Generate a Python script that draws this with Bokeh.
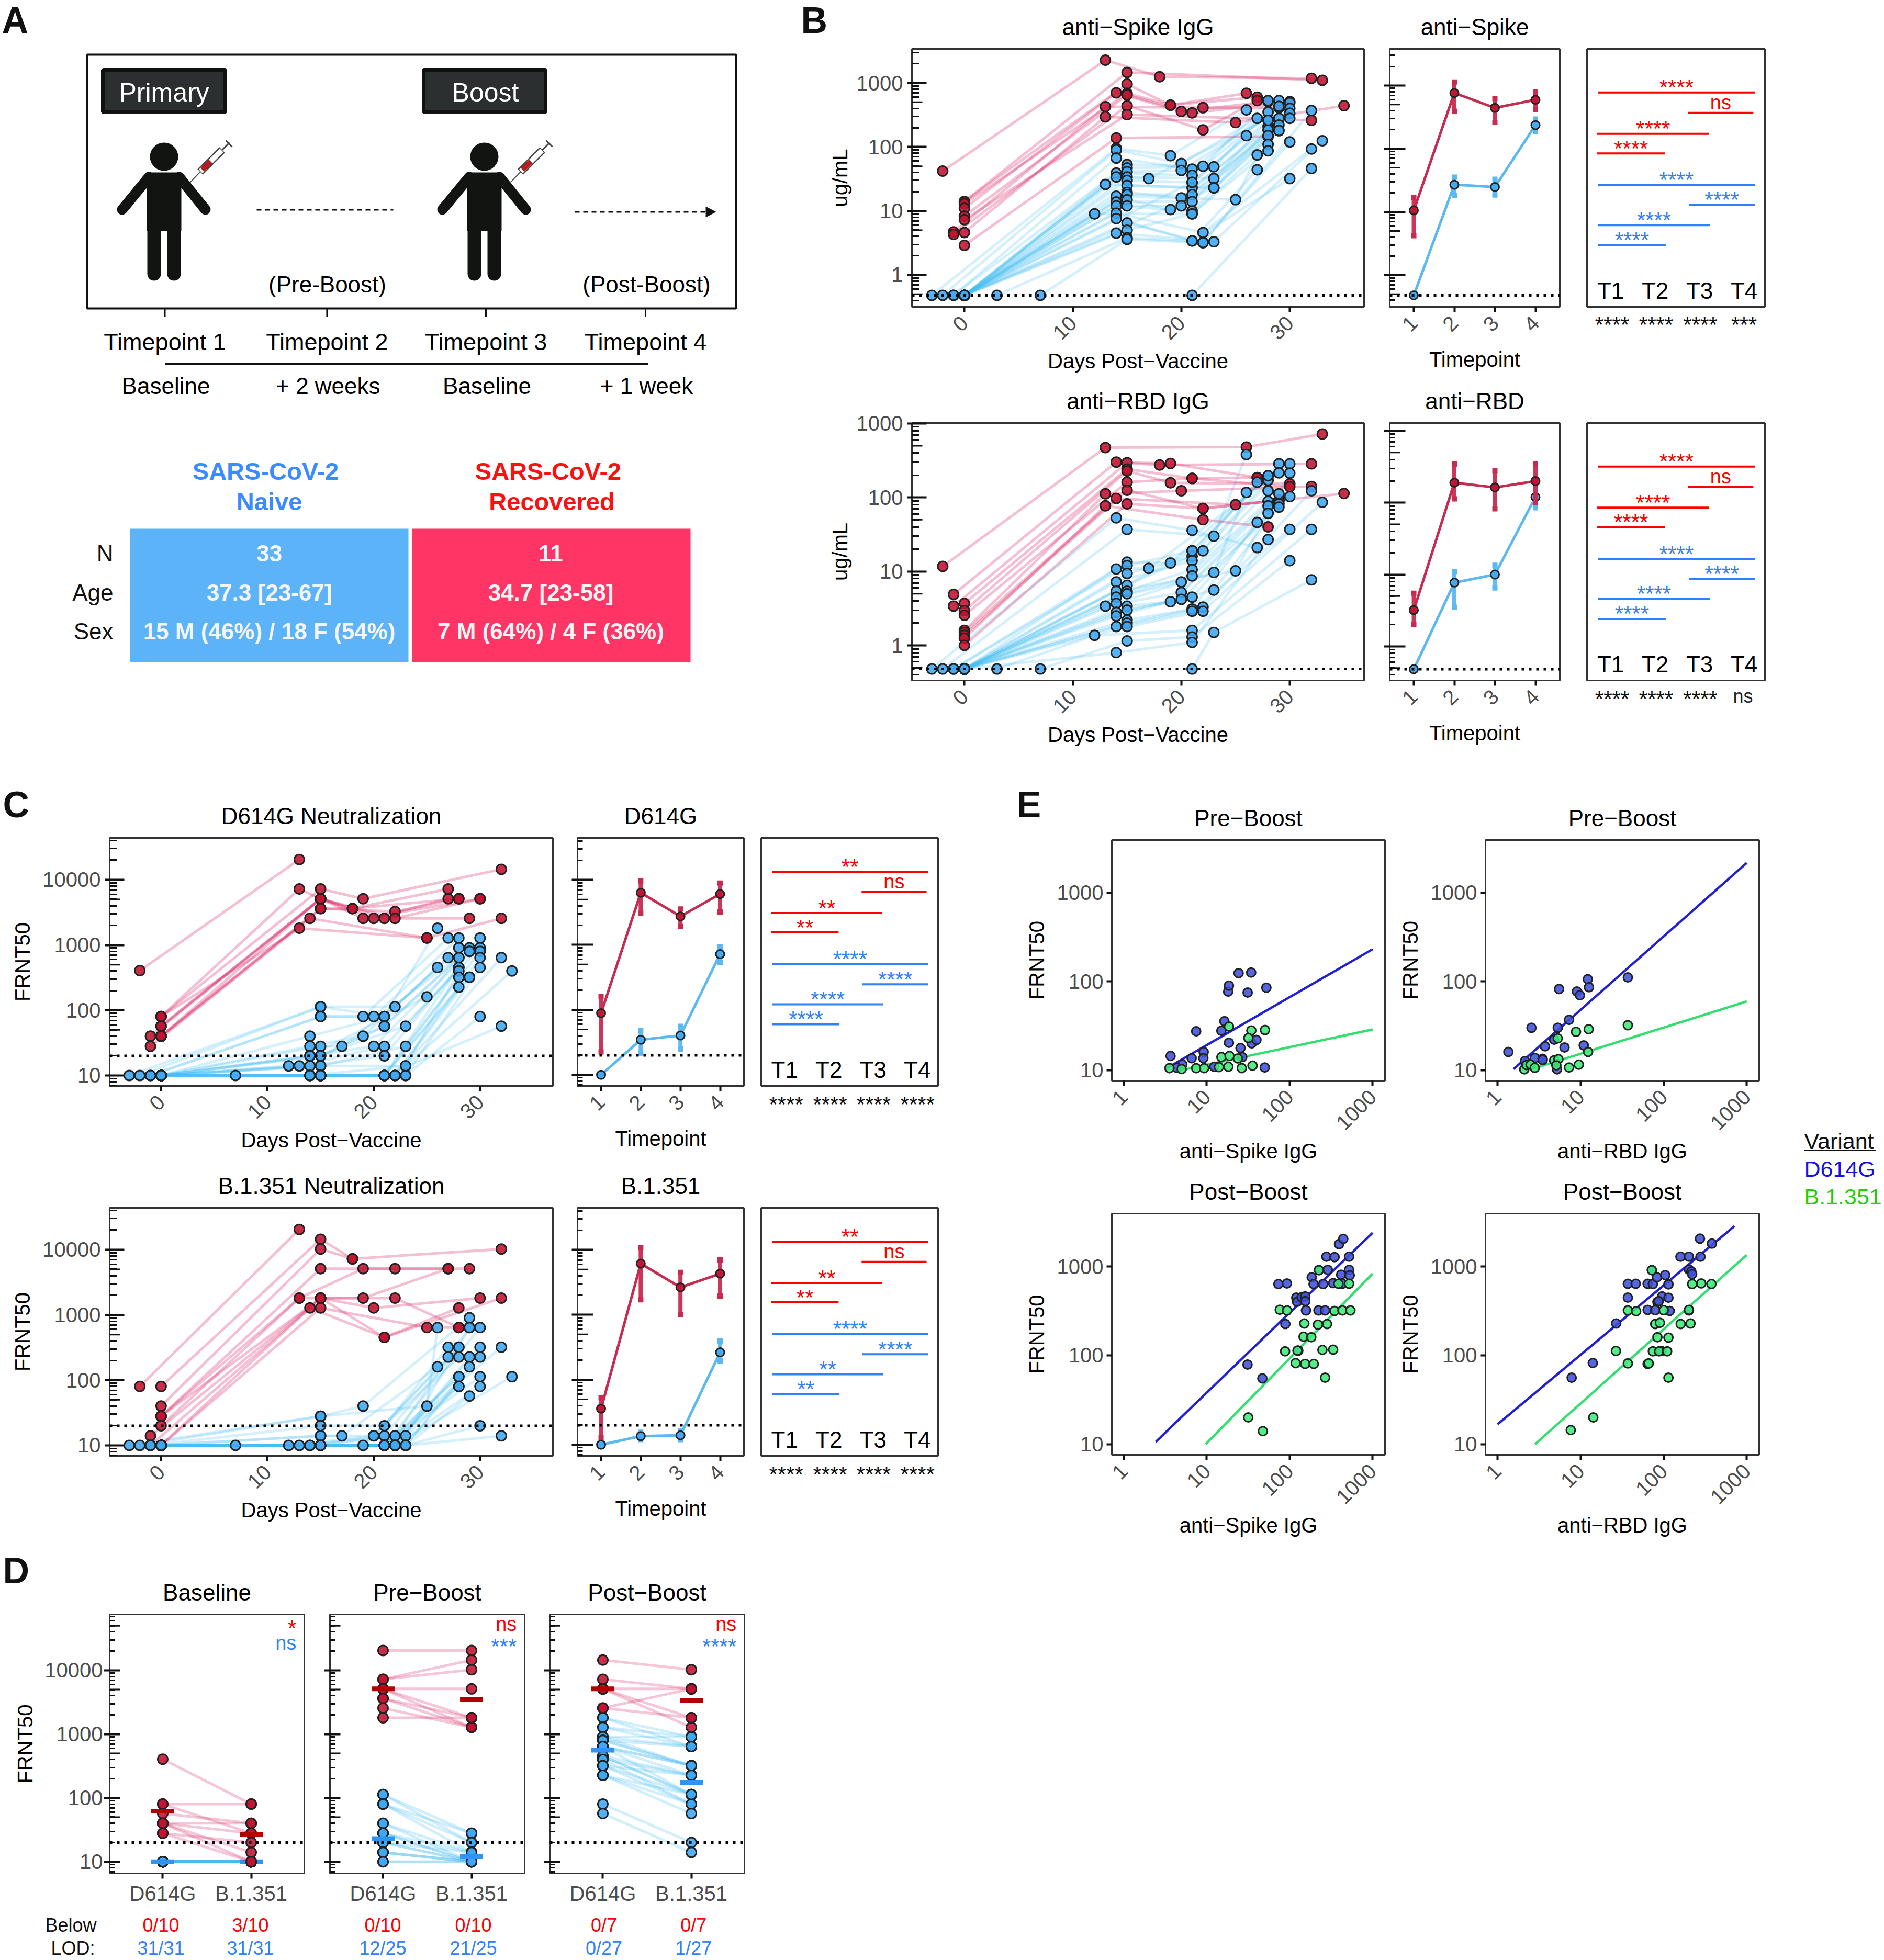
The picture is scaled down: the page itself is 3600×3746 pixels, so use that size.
import math
from bokeh.plotting import figure
from bokeh.models import Range1d, FixedTicker, NumeralTickFormatter, Span
from bokeh.core.properties import value
from bokeh.embed import file_html
from bokeh.resources import INLINE

FONT = "Liberation Sans"
RED, BLUE = "#C1122F", "#3FA7F2"
RED_L, BLUE_L = "#D81B5A", "#45BDF0"
GRAY = "#4D4D4D"
SIG_RED, SIG_BLUE = "#FF0000", "#2F80FF"
L = 0.48

# ---------- spaghetti data: each row = one subject, T1..T4 as (day, value) or None ----------
B1_RED = [
 [(-2,42),(13,2270),(18,1250),(32,1180)], [(0,14),(15,1460),None,(33,1100)],
 [(0,14),(15,960),(19,450),(26,690)], [(0,13),(15,690),(19,450),(27,600)],
 [(0,11),(14,700),(20,358),(28,510)], [(0,8.3),(15,650),(21,340),(30,510)],
 [(-1,4.7),(13,425),(22,410),(29,410)], [(-1,4.3),(15,440),(22,185),(27,530)],
 [(0,7.3),(15,320),None,(32,260)], [(0,4.6),(13,295),(25,240),(35,440)],
 [(0,2.9),(14,138),None,(28,145)]]
B1_BLUE = [
 [(-3,L),(14,95),(19,73),(26,380)], [(-2,L),(14,90),(20,55),(27,280)], [(-1,L),(15,53),(22,50),(28,530)],
 [(-1,L),(14,67),(21,45),(28,350)], [(0,L),(15,47),(23,49),(29,530)], [(0,L),(15,41),(20,43),(30,490)],
 [(0,L),(14,39),(21,36),(29,430)], [(0,L),(14,34),(17,32),(30,400)], [(0,L),(15,34),(23,32),(28,260)],
 [(0,L),(15,30),(21,28),(26,150)], [(0,L),(13,26),(21,23),(30,335)], [(0,L),(15,25),(23,23),(29,280)],
 [(0,L),(15,19.5),(20,16),(28,210)], [(0,L),(15,18),(21,18),(30,280)], [(0,L),(14,17),(25,15),(27,75)],
 [(0,L),(14,13.8),(21,14),(28,185)], [(0,L),(15,15),(19,10.5),(29,220)], [(0,L),(15,12),(20,12),(29,180)],
 [(0,L),(14,12),(21,10),(28,150)], [(0,L),(12,9),(21,9),(28,110)], [(0,L),(14,9.2),(22,4.6),(32,93)],
 [(0,L),(14,7.6),(21,3.4),(27,44)], [(0,L),(15,6.5),(22,3.2),(30,120)], [(0,L),(14,4.5),(23,3.3),(33,125)],
 [(0,L),(15,5),(21,9),(28,87)], [(3,L),(15,3.8),(21,3.4),(30,32)], [(7,L),(15,3.6),(22,3.2),(32,370)],
 [(21,L),None,None,(32,46)], [(0,L),None,(21,28),(28,260)], [(0,L),None,(23,23),(29,180)]]
B2_RED = [
 [(-2,11.7),(13,473),(26,480),(33,720)], [(-1,4.9),(14,301),(18,275),(32,285)],
 [(-1,3.4),(15,295),(19,288),(27,186)], [(0,3.7),(15,242),(21,181),(27,186)],
 [(0,2.95),(15,228),(19,158),(30,153)], [(0,2.55),(15,161),(21,181),(30,140)],
 [(0,1.6),(13,112),(20,123),(32,141)], [(0,1.5),(14,97),(25,80),(29,92)],
 [(0,1.37),(15,125),(22,71),(35,113)], [(0,1.25),(13,77),(22,50),(28,40)],
 [(0,1.0),(15,82),(22,71),(29,92)]]
B2_BLUE = [
 [(-3,L),(14,53),(21,36),(27,21)], [(-2,L),(15,37),(23,30),(26,380)], [(-1,L),(15,13.4),(19,13),(28,197)],
 [(-1,L),(15,12),(21,19),(29,285)], [(0,L),(14,10.8),(17,11),(30,285)], [(0,L),(15,9.4),(21,16),(27,161)],
 [(0,L),(14,7.2),(21,14),(28,171)], [(0,L),(15,6.5),(22,19),(29,215)], [(0,L),(14,5.4),(25,10.2),(30,213)],
 [(0,L),(15,5.4),(21,10.6),(28,123)], [(0,L),(14,4.5),(20,7.2),(28,89)], [(0,L),(15,5),(21,8.7),(29,112)],
 [(0,L),(14,3.7),(23,9.7),(26,117)], [(0,L),(13,3.4),(20,5.2),(28,77)], [(0,L),(15,3.4),(19,3.9),(29,82)],
 [(0,L),(15,3.0),(20,4.2),(30,103)], [(0,L),(14,2.8),(21,4.5),(28,61)], [(0,L),(14,2.5),(23,5.6),(29,74)],
 [(0,L),(15,2.2),(21,3.1),(27,46)], [(0,L),(15,2.0),(22,3.3),(32,123)], [(0,L),(14,1.8),(21,2.9),(30,37)],
 [(0,L),(15,1.8),(22,2.9),(33,86)], [(3,L),(12,1.37),(21,1.6),(32,37)], [(7,L),(15,1.15),(21,1.3),(30,14)],
 [(0,L),(14,.8),(21,1.1),(28,27)], [(21,L),None,(23,1.5),(32,7.7)], [(0,L),None,(21,19),(28,197)]]
C1_RED = [
 [(-2,405),(13,20480),None,None], [(0,80),(13,7240),(19,2560),(30,5120)], [(0,80),(15,7240),(19,5120),(32,14480)],
 [(0,57),(15,5120),(18,3620),(27,7240)], [(0,40),(15,5120),(20,2560),(27,5120)], [(0,40),(15,3620),(22,3260),(28,5120)],
 [(-1,40),(15,5120),(21,2560),(29,2560)], [(-1,28),(14,2560),(25,1280),(32,2560)], [(0,80),(13,1810),(25,1280),None],
 [(0,57),(15,5120),(22,2560),(30,5120)], [(0,40),(15,3620),(18,3620),(28,5120)]]
T10 = 10
C1_BLUE = [
 [(-3,T10),(15,113),(21,80),(26,1810)], [(-2,T10),(15,113),(22,113),(26,453)], [(-1,T10),(15,80),(19,80),(27,1280)],
 [(-1,T10),(15,80),(20,80),(28,1280)], [(0,T10),(14,40),(21,80),(27,640)], [(0,T10),(14,28),(19,40),(28,905)],
 [(0,T10),(15,28),(17,28),(29,905)], [(0,T10),(14,20),(25,160),(28,640)], [(0,T10),(15,20),(21,57),(28,640)],
 [(0,T10),(14,20),(20,28),(29,800)], [(0,T10),(15,20),(21,57),(30,1280)], [(0,T10),(12,14),(23,57),(28,453)],
 [(0,T10),(13,14),(21,28),(30,905)], [(0,T10),(14,14),(21,20),(28,453)], [(0,T10),(15,14),(23,28),(30,800)],
 [(0,T10),(15,14),(23,14),(28,400)], [(7,T10),(14,10),(21,10),(28,320)], [(0,T10),(14,10),(21,10),(29,800)],
 [(0,T10),(15,10),(21,10),(28,226)], [(0,T10),(15,10),(22,10),(29,320)], [(0,T10),(15,10),(22,10),(30,640)],
 [(0,T10),(15,10),(23,10),(30,453)], [(0,T10),(15,10),(23,10),(30,80)], [(0,T10),(15,10),(22,10),(32,640)],
 [(0,T10),(14,10),(21,10),(32,57)], [(0,T10),(14,10),(23,14),(33,400)], [(0,T10),(15,10),(21,10),(29,320)]]
C2_RED = [
 [(-2,80),(13,20480),None,None], [(0,80),(15,14480),(18,7240),(32,10240)], [(0,40),(15,10240),(18,7240),None],
 [(0,28),(15,5120),(22,5120),(29,5120)], [(0,28),(13,1810),(19,5120),(27,5120)], [(0,28),(15,1810),(19,1810),(27,5120)],
 [(0,20),(13,1810),(22,1810),(28,640)], [(-1,14),(15,1810),(20,1280),(30,1810)], [(-1,10),(14,1280),(21,453),(28,1280)],
 [(0,10),(15,1280),(25,640),(28,640)], [(0,10),(15,1810),(21,453),(32,1810)]]
C2_BLUE = [
 [(-3,T10),(15,28),(25,40),(26,640)], [(-2,T10),(15,28),(19,40),(29,905)], [(-1,T10),(15,20),(21,20),(27,320)],
 [(-1,T10),(15,14),(17,14),(26,160)], [(0,T10),(15,14),(20,14),(28,320)], [(0,T10),(12,10),(20,14),(27,226)],
 [(7,T10),(13,10),(21,14),(28,320)], [(0,T10),(14,10),(22,14),(29,640)], [(0,T10),(14,10),(23,14),(29,640)],
 [(0,T10),(15,10),(19,10),(28,226)], [(0,T10),(15,10),(21,10),(28,113)], [(0,T10),(15,10),(21,10),(28,113)],
 [(0,T10),None,(21,10),(28,80)], [(0,T10),None,(22,10),(28,80)], [(0,T10),None,(22,10),(29,226)],
 [(0,T10),None,(23,10),(29,160)], [(0,T10),None,(23,10),(29,57)], [(0,T10),None,(21,10),(30,640)],
 [(0,T10),None,(22,10),(30,320)], [(0,T10),None,(23,10),(30,226)], [(0,T10),None,(21,10),(30,113)],
 [(0,T10),None,(22,10),(30,80)], [(0,T10),None,(23,10),(30,20)], [(0,T10),None,(21,10),(32,320)],
 [(0,T10),None,(23,10),(32,14)], [(0,T10),None,(22,10),(33,113)]]

# ---------- summary panels: value, upper, lower at T1..T4 ----------
MB1_RED = ([10.6,762,442,595],[17,1135,626,795],[4.2,393,261,413])
MB1_BLUE = ([.48,27,24.8,236],[.48,35.5,33,295],[.48,18.4,18.5,186])
MB2_RED = ([3.2,190,163,200],[5.5,345,280,345],[2,113,82,100])
MB2_BLUE = ([.48,7.7,10,120],[.48,11,13.5,165],[.48,3.5,6.5,85])
MC1_RED = ([89,6350,2750,6070],[160,9630,3580,8930],[22.5,3076,1925,3220])
MC1_BLUE = ([10,34.7,40.4,723],[10,47.8,56,927],[10,21.6,25,534])
MC2_RED = ([36,6150,2650,4300],[53,10900,4500,7000],[13,1700,1000,1950])
MC2_BLUE = ([10,13.6,14,265],[10,15.6,16.5,395],[10,12,12,195])

# ---------- significance panels ----------
SPANS_RED = [(.72,4.24),(2.74,4.21),(.70,3.21),(.70,2.22)]
SPANS_BLUE = [(.72,4.24),(2.76,4.24),(.72,3.23),(.72,2.24)]
B_Y_RED, B_Y_BLUE = [.169,.248,.329,.405], [.528,.605,.683,.761]
C_Y_RED, C_Y_BLUE = [.137,.218,.303,.381], [.509,.59,.671,.751]
S = "****"
SIG_B = (["****","ns","****","****"],[S,S,S,S])
SIG_C1 = (["**","ns","**","**"],[S,S,S,S])
SIG_C2 = (["**","ns","**","**"],[S,S,"**","**"])
T_LABELS = ["T1","T2","T3","T4"]

# ---------- panel D: pairs (D614G, B.1.351) ----------
D1_RED = [(405,80),(80,80),(80,28),(57,40),(40,40),(40,28),(40,14),(40,10),(28,10),(28,20)]
D1_BLUE = [(10,10)]*31
D2_RED = [(20480,20480),(7240,14480),(7240,10240),(5120,5120),(5120,1810),(5120,1280),(3620,1810),(3620,1280),(2560,1280),(1810,1810)]
D2_BLUE = [(113,28),(113,20),(80,28),(80,20),(80,14),(40,14),(40,10),(28,14),(28,10),(28,10),(20,14),(20,10),(20,10),(14,10),(14,10),(14,10),(10,10),(10,10)]
D3_RED = [(14480,10240),(7240,5120),(5120,5120),(5120,1810),(5120,1280),(2560,5120),(2560,1810)]
D3_BLUE = [(1810,905),(1810,640),(1280,905),(1280,640),(905,905),(905,640),(905,320),(800,320),(800,320),(800,640),(640,320),(640,226),(640,113),(640,320),(453,226),(453,113),(453,113),(400,226),(400,80),(320,113),(320,80),(320,226),(226,80),(226,57),(226,113),(80,20),(57,14)]
D_MED = [((62,26.5),(10,10)),((5120,3500),(23,12)),((5120,3400),(560,175))]
D_SIG = [("*","ns"),("ns","***"),("ns","****")]
D_VAR = ["D614G","B.1.351"]
D_BELOW = [("0/10","3/10","31/31","31/31"),("0/10","0/10","12/25","21/25"),("0/7","0/7","0/27","1/27")]

# ---------- panel E: (IgG, FRNT50) ----------
E11_B = [(3.66,14.4),(5.07,11.6),(4.37,10.6),(6.57,13.6),(7.45,27.4),(9.17,16),(9.1,13.6),(12.3,10.9),(15,27.8),(16.3,35.6),(18.5,20.3),(18.1,76.7),(18.5,89.7),(24.2,124),(34.3,126),(31.1,75),(52.3,85),(25.5,17.7),(34.8,20),(39.7,21.9),(26.8,14),(50,10.7)]
E11_G = [(3.55,10.5),(4.98,10.25),(7.45,10.5),(9.3,10.5),(14,10.8),(18.2,10.9),(26.4,10.5),(35.6,11.2),(15,14),(18.8,14.4),(23.7,13.5),(18.5,31),(34.5,28),(31.8,23),(50.3,28.3)]
E21_B = [(31,78.6),(46.8,55),(88.6,225),(73,635),(92.5,645),(120,446),(123,400),(139,450),(154,461),(154,407),(157,320),(184,755),(194,635),(222,320),(225,910),(253,635),(267,320),(277,1290),(347,1275),(288,916),(334,650),(417,809),(520,1290),(520,916),(529,795),(393,1786),(442,2046),(432,640),(127,113)]
E21_G = [(31.6,20),(47.5,14),(88,111),(118,81.6),(153,80),(195,80),(267,56),(124,113),(248,115),(334,116),(147,162),(182,160),(150,228),(219,221),(282,225),(75.8,326),(93,320),(346,316),(432,320),(540,320),(225,910),(387,640),(520,640)]
E12_B = [(1.35,16),(2.14,12.6),(2.56,30),(2.81,13.7),(3.48,13.4),(3.5,13),(3.72,18.5),(4.8,22),(5.2,10.2),(5.3,30),(5.5,82),(6.4,18),(7.25,36.8),(9,77),(9.8,70),(10.9,19),(12.2,106),(12.6,86),(37,111)]
E12_G = [(2.1,10.2),(2.23,11.4),(2.5,11.5),(2.8,10.6),(4.8,12.9),(5.4,13.3),(5.1,11.3),(7.25,10.7),(9.5,11.5),(12.3,16),(8.8,27),(5.3,22.8),(12.5,28.9),(37,32)]
E22_B = [(7.8,56),(14,82),(26.8,228),(37,640),(46,640),(37,446),(64,640),(74,635),(72,910),(83,755),(104,800),(114,630),(95.5,460),(114,445),(84,400),(87,407),(64,325),(79,322),(118,316),(201,320),(159,1290),(201,1290),(277,1290),(201,925),(215,880),(220,820),(273,2060),(380,1810),(94,112)]
E22_G = [(7.6,14.4),(14.2,20),(26.6,112),(37,81),(64,80),(66,81),(74,111),(88,111),(110,111),(84,160),(114,158),(79,225),(90,232),(160,225),(210,228),(37,320),(46.6,314),(100,322),(201,325),(72,910),(220,635),(283,645),(375,635),(114,56)]
E_FITS = {"11":[((3.15,10.25),(1000,231)),((5,10),(1000,28.7))],
          "12":[((1.56,10.25),(1000,2178)),((2.8,10.5),(1000,59.5))],
          "21":[((2.42,10.6),(1000,2400)),((9.7,10),(1000,832))],
          "22":[((1,16.7),(710,2850)),((2.83,10),(1000,1350))]}
E_STATS = {"11":("ρ = 0.5 , p = 0.012","ρ = 0.45 , p = 0.029"),
           "12":("ρ = 0.82 , p = 1.3e−06","ρ = 0.61 , p = 0.002"),
           "21":("ρ = 0.76 , p = 4.3e−06","ρ = 0.6 , p = 0.00088"),
           "22":("ρ = 0.73 , p = 1.6e−05","ρ = 0.59 , p = 0.0013")}

ML, MR, MT, MB = 190, 10, 100, 170
MINOR = [m*10**k for k in range(-1,5) for m in range(2,10)]
FIVES = [5*10**k for k in range(-1,5)]
panels = []

def txt(p, x, y, s, size, color="#000000", align="center", bold=False, base="middle", angle=0):
    p.text([x],[y],text=[s],text_font=value(FONT),text_font_size=f"{size}px",text_color=color,
           text_align=align,text_baseline=base,angle=angle,
           text_font_style="bold" if bold else "normal")

def frame(x0,y0,x1,y1,xr,yr,xlog=False,ylog=True,title=None,title_size=44):
    p = figure(width=int(round(x1-x0))+ML+MR,height=int(round(y1-y0))+MT+MB,
               x_axis_type="log" if xlog else "linear",y_axis_type="log" if ylog else "linear",
               x_range=Range1d(*xr),y_range=Range1d(*yr),output_backend="svg",toolbar_location=None,
               min_border_left=ML,min_border_right=MR,min_border_top=MT,min_border_bottom=MB,
               border_fill_color=None,background_fill_color="white",
               outline_line_color="#333333",outline_line_width=3,title=title)
    p.grid.visible=False
    p.styles={"position":"absolute","left":f"{int(round(x0))-ML}px","top":f"{int(round(y0))-MT}px"}
    if title:
        p.title.align="center"; p.title.text_font=FONT
        p.title.text_font_size=f"{title_size}px"; p.title.text_font_style="normal"; p.title.text_color="#000000"
        p.title.standoff=35
    panels.append(p)
    return p

def style_axis(ax,ticks,minor,size=40,tick_in=0,tick_out=10,minor_in=0,lw=3,standoff=6,labels=True):
    ax.ticker=FixedTicker(ticks=ticks,minor_ticks=minor)
    ax.formatter=NumeralTickFormatter(format="0")
    ax.major_label_text_font=FONT; ax.major_label_text_font_size=f"{size}px" if labels else "0px"
    ax.major_label_text_color=GRAY if labels else None
    ax.major_tick_in=tick_in; ax.major_tick_out=tick_out; ax.minor_tick_in=minor_in; ax.minor_tick_out=0
    ax.major_tick_line_width=lw+1; ax.minor_tick_line_width=lw
    ax.major_tick_line_color="#111111"; ax.minor_tick_line_color="#111111"
    ax.axis_line_color=None; ax.major_label_standoff=standoff

def axis_label(ax,s,size=40,standoff=6):
    ax.axis_label=s; ax.axis_label_text_font=FONT; ax.axis_label_text_font_size=f"{size}px"
    ax.axis_label_text_font_style="normal"; ax.axis_label_text_color="#000000"; ax.axis_label_standoff=standoff

def five_ticks(p,xr,fw,length=20):
    dx=(xr[1]-xr[0])*length/fw
    p.segment(x0=[xr[0]]*len(FIVES),x1=[xr[0]+dx]*len(FIVES),y0=FIVES,y1=FIVES,line_color="#111111",line_width=3)

def lod(p,v):
    p.add_layout(Span(location=v,dimension="width",line_color="#000000",line_width=5,line_dash="5 9"))

def spaghetti(p,rows,col,alpha=.28,w=5):
    for r in rows:
        pts=[q for q in r if q is not None]
        p.line([q[0] for q in pts],[q[1] for q in pts],line_color=col,line_alpha=alpha,line_width=w)

def points(p,rows,col,size=19):
    pts=[q for r in rows for q in r if q is not None]
    p.scatter([q[0] for q in pts],[q[1] for q in pts],size=size,fill_color=col,fill_alpha=.88,line_color="#222222",line_width=3)

def days_panel(x0,y0,x1,y1,yr,red,blue,ticks,lodv,title,ylabel,yst,xst):
    xr=(-4.84,36.85)
    p=frame(x0,y0,x1,y1,xr,yr,title=title)
    style_axis(p.xaxis[0],[0,10,20,30],[],tick_out=10,standoff=14)
    p.xaxis[0].major_label_orientation=math.pi/4
    style_axis(p.yaxis[0],ticks,MINOR,tick_in=28,tick_out=9,minor_in=14,standoff=8)
    axis_label(p.xaxis[0],"Days Post−Vaccine",standoff=xst)
    axis_label(p.yaxis[0],ylabel,standoff=yst)
    five_ticks(p,xr,x1-x0)
    lod(p,lodv)
    spaghetti(p,blue,BLUE_L,alpha=.23); spaghetti(p,red,RED_L)
    points(p,red,RED); points(p,blue,BLUE)
    return p

def summary_panel(x0,y0,x1,y1,yr,red,blue,ticks,lodv,title,xst):
    xr=(.406,4.6)
    p=frame(x0,y0,x1,y1,xr,yr,title=title)
    style_axis(p.xaxis[0],[1,2,3,4],[],tick_out=10,standoff=14)
    p.xaxis[0].major_label_orientation=math.pi/4
    style_axis(p.yaxis[0],ticks,MINOR,tick_in=30,tick_out=11,minor_in=10,labels=False)
    axis_label(p.xaxis[0],"Timepoint",standoff=xst)
    five_ticks(p,xr,x1-x0)
    lod(p,lodv)
    X=[1,2,3,4]
    for (v,hi,lo),lc,pc in ((blue,"#5CB8F0",BLUE),(red,"#C72C50",RED)):
        p.segment(x0=X,x1=X,y0=lo,y1=hi,line_color=lc,line_width=8,line_alpha=.95)
        p.scatter(X,hi,marker="square",size=10,fill_color=lc,line_color=None)
        p.scatter(X,lo,marker="square",size=10,fill_color=lc,line_color=None)
        p.line(X,v,line_color=lc,line_width=5)
        p.scatter(X,v,size=16,fill_color=pc,fill_alpha=.9,line_color="#222222",line_width=3)
    return p

def stat_panel(x0,y0,x1,y1,yred,yblue,sig,ty):
    p=frame(x0,y0,x1,y1,(.47,4.47),(1,0),ylog=False)
    p.axis.visible=False
    for spans,ys,labs,col in ((SPANS_RED,yred,sig[0],SIG_RED),(SPANS_BLUE,yblue,sig[1],SIG_BLUE)):
        p.segment(x0=[a for a,b in spans],x1=[b for a,b in spans],y0=ys,y1=ys,line_color=col,line_width=4)
        for (a,b),y,s in zip(spans,ys,labs):
            if s=="ns":
                p.text([(a+b)/2],[y],text=[s],text_font=value(FONT),text_font_size="38px",text_color=col,
                       text_align="center",text_baseline="alphabetic",y_offset=-20)
            else:
                p.text([(a+b)/2],[y],text=[s],text_font=value(FONT),text_font_size="42px",text_color=col,
                       text_align="center",text_baseline="alphabetic",y_offset=-10)
    p.text([1,2,3,4],[ty]*4,text=T_LABELS,text_font=value(FONT),text_font_size="44px",text_color="#000000",
           text_align="center",text_baseline="middle")
    return p

# ---------- background page: panel A, letters, free texts ----------
bg=figure(width=3600,height=3746,x_range=Range1d(0,3600),y_range=Range1d(3746,0),output_backend="svg",
          toolbar_location=None,min_border=0,outline_line_color=None,border_fill_color=None,background_fill_color=None)
bg.axis.visible=False; bg.grid.visible=False
bg.styles={"position":"absolute","left":"0px","top":"0px"}

for s,x,y in (("A",3,38),("B",1530,38),("C",5,1537),("D",5,3001),("E",1942,1537)):
    txt(bg,x,y,s,70,"#111111","left",True)

bg.quad(left=[166.5],right=[1406],top=[104],bottom=[589],fill_color=None,line_color="#111111",line_width=4)
for x0,x1,s,cx in ((196,430,"Primary",313),(809,1042,"Boost",927)):
    bg.quad(left=[x0],right=[x1],top=[133],bottom=[214],fill_color="#2B2F2F",line_color="#111111",line_width=7)
    txt(bg,cx,176,s,50,"#FFFFFF")
for dx in (0,612):
    c="#111411"
    bg.circle([313+dx],[299],radius=27,fill_color=c,line_color=None)
    bg.patch([281+dx,345+dx,345+dx,281+dx],[330,330,440,440],fill_color=c,line_color=c,line_width=2)
    for xs,ys,w in (([294+dx,294+dx],[430,523],26),([332+dx,332+dx],[430,523],26),
                    ([284+dx,233+dx],[338,400],20),([342+dx,392+dx],[338,400],20)):
        bg.line(xs,ys,line_color=c,line_width=w,line_cap="round")
    bg.line([363+dx,382+dx],[348,328],line_color="#555555",line_width=2)
    bg.line([382+dx,424+dx],[328,286],line_color="#444444",line_width=15)
    bg.line([383+dx,423+dx],[327,287],line_color="#FFFFFF",line_width=10)
    bg.line([386+dx,402+dx],[324,308],line_color="#B81D1D",line_width=10)
    bg.line([424+dx,438+dx],[286,272],line_color="#444444",line_width=3)
    bg.line([431+dx,443+dx],[268,280],line_color="#444444",line_width=3)
bg.line([490,751],[400.5,400.5],line_color="#111111",line_width=3,line_dash="9 7")
bg.line([1098,1350],[404.5,404.5],line_color="#111111",line_width=3,line_dash="9 7")
bg.patch([1348,1368,1348],[394,404.5,415],fill_color="#111111",line_color=None)
txt(bg,625,543,"(Pre-Boost)",44); txt(bg,1235,543,"(Post-Boost)",44)
for x,s1,s2 in ((314.5,"Timepoint 1","Baseline"),(624.4,"Timepoint 2","+ 2 weeks"),(928,"Timepoint 3","Baseline"),(1233,"Timepoint 4","+ 1 week")):
    bg.line([x,x],[589,605],line_color="#111111",line_width=3)
    txt(bg,x,653,s1,45); txt(bg,x+2,737,s2,44)
bg.line([314.5,1238],[695,695],line_color="#111111",line_width=3)
txt(bg,507,900,"SARS-CoV-2",47,"#3A8BFF",bold=True); txt(bg,514,958,"Naive",47,"#3A8BFF",bold=True)
txt(bg,1047,900,"SARS-CoV-2",47,"#FF1010",bold=True); txt(bg,1054,958,"Recovered",47,"#FF1010",bold=True)
bg.quad(left=[248],right=[780],top=[1010],bottom=[1264.5],fill_color="#5CB3F7",line_color=None)
bg.quad(left=[787],right=[1319],top=[1010],bottom=[1264.5],fill_color="#FE3565",line_color=None)
for y,lab,a,b in ((1057,"N","33","11"),(1132,"Age","37.3 [23-67]","34.7 [23-58]"),(1206,"Sex","15 M (46%) / 18 F (54%)","7 M (64%) / 4 F (36%)")):
    txt(bg,216,y,lab,44,"#111111","right"); txt(bg,514,y,a,44,"#F4F4F4",bold=True); txt(bg,1052,y,b,44,"#F4F4F4",bold=True)

# bottom stars under stat panels
for xs,y,labs in (((3080,3164,3248.5,3332),620,(S,S,S,"***")),((3080,3164,3248.5,3332),1335,(S,S,S,None)),
                  ((1501.7,1585.6,1669,1752.8),2109.5,(S,S,S,S)),((1501.7,1585.6,1669,1752.8),2816.5,(S,S,S,S))):
    for x,s in zip(xs,labs):
        if s: txt(bg,x,y,s,42,"#111111",base="alphabetic")
txt(bg,3330,1330,"ns",36,"#222222")

# panel D free text
txt(bg,135,3679,"Below",36,"#111111"); txt(bg,139,3723,"LOD:",36,"#111111")
for (x1,x2),(a,b,c,d) in zip(((307,478),(731,904),(1153.6,1324.7)),D_BELOW):
    txt(bg,x1,3679,a,36,"#FF0000"); txt(bg,x2,3679,b,36,"#FF0000")
    txt(bg,x1,3723,c,36,SIG_BLUE); txt(bg,x2,3723,d,36,SIG_BLUE)

# legend
txt(bg,3447,2180,"Variant",43,"#111111","left")
bg.line([3447,3584],[2198,2198],line_color="#111111",line_width=3)
txt(bg,3447,2233,"D614G",43,"#1010F0","left"); txt(bg,3447,2286,"B.1.351",43,"#20D000","left")

# ---------- panel B ----------
days_panel(1742,93,2606,586,(.317,3400),B1_RED,B1_BLUE,[1,10,100,1000],L,"anti−Spike IgG","ug/mL",7,3)
summary_panel(2655,93,2980,586,(.315,3790),MB1_RED,MB1_BLUE,[1,10,100,1000],L,"anti−Spike",16)
stat_panel(3032,93,3372,586,B_Y_RED,B_Y_BLUE,SIG_B,.937)
days_panel(1742,808,2606,1300,(.336,1015),B2_RED,B2_BLUE,[1,10,100,1000],L,"anti−RBD IgG","ug/mL",7,3)
summary_panel(2655,808,2980,1300,(.335,1286),MB2_RED,MB2_BLUE,[1,10,100,1000],L,"anti−RBD",16)
stat_panel(3032,808,3372,1300,B_Y_RED,B_Y_BLUE,(SIG_B[0],SIG_B[1]),.937)

# ---------- panel C ----------
TC=[10,100,1000,10000]
days_panel(208,1601,1056,2075,(6.9,43800),C1_RED,C1_BLUE,TC,20,"D614G Neutralization","FRNT50",13,3)
summary_panel(1103,1601,1421,2075,(6.75,44300),MC1_RED,MC1_BLUE,TC,20,"D614G",16)
stat_panel(1454,1601,1792,2075,C_Y_RED,C_Y_BLUE,SIG_C1,.9355)
days_panel(208,2308,1056,2782,(6.9,43800),C2_RED,C2_BLUE,TC,20,"B.1.351 Neutralization","FRNT50",13,3)
summary_panel(1103,2308,1421,2782,(6.75,44300),MC2_RED,MC2_BLUE,TC,20,"B.1.351",16)
stat_panel(1454,2308,1792,2782,C_Y_RED,C_Y_BLUE,SIG_C2,.9355)

# ---------- panel D ----------
for i,(x0,x1,title,red,blue) in enumerate(((209,581,"Baseline",D1_RED,D1_BLUE),(630,1002,"Pre−Boost",D2_RED,D2_BLUE),(1050,1422,"Post−Boost",D3_RED,D3_BLUE))):
    xr=(.4,2.6)
    p=frame(x0,3085,x1,3580,xr,(6.56,75300),title=title)
    style_axis(p.xaxis[0],[1,2],[],tick_out=10)
    p.xaxis[0].major_label_overrides={1:D_VAR[0],2:D_VAR[1]}
    style_axis(p.yaxis[0],TC,MINOR,tick_in=20,tick_out=11,minor_in=10,labels=(i==0),standoff=2)
    if i==0: axis_label(p.yaxis[0],"FRNT50",standoff=12)
    five_ticks(p,xr,x1-x0)
    lod(p,20)
    for rows,lc,pc,mc,med in ((blue,BLUE_L,BLUE,"#2E96F2",D_MED[i][1]),(red,RED_L,RED,"#B20000",D_MED[i][0])):
        for a,b in rows:
            p.line([1,2],[a,b],line_color=lc,line_alpha=.25,line_width=5)
        p.scatter([1]*len(rows),[a for a,b in rows],size=19,fill_color=pc,fill_alpha=.88,line_color="#222222",line_width=3)
        p.scatter([2]*len(rows),[b for a,b in rows],size=19,fill_color=pc,fill_alpha=.88,line_color="#222222",line_width=3)
        p.segment(x0=[.87,1.87],x1=[1.13,2.13],y0=med,y1=med,line_color=mc,line_width=9)
    for s,y,col in ((D_SIG[i][0],52600,SIG_RED),(D_SIG[i][1],27000,SIG_BLUE)):
        if "*" in s:
            p.text([2.51],[y],text=[s],text_font=value(FONT),text_font_size="42px",text_color=col,text_align="right",text_baseline="alphabetic",y_offset=7)
        else:
            p.text([2.51],[y],text=[s],text_font=value(FONT),text_font_size="38px",text_color=col,text_align="right",text_baseline="middle")

# ---------- panel E ----------
def scatter_panel(x0,y0,x1,y1,xr,key,blue,green,title,xlabel):
    p=frame(x0,y0,x1,y1,xr,(7.58,3940),xlog=True,title=title)
    style_axis(p.xaxis[0],[1,10,100,1000],[],tick_out=10,standoff=14)
    p.xaxis[0].major_label_orientation=math.pi/4
    style_axis(p.yaxis[0],[10,100,1000],[],tick_out=10)
    axis_label(p.xaxis[0],xlabel,standoff=3)
    axis_label(p.yaxis[0],"FRNT50",standoff=14)
    for ((a,b),(c,d)),col in zip(E_FITS[key],("#2020D8","#2FE06C")):
        p.line([a,c],[b,d],line_color=col,line_width=4.5)
    p.scatter([q[0] for q in blue],[q[1] for q in blue],size=17,fill_color="#3F51DC",fill_alpha=.88,line_color="#222222",line_width=3)
    p.scatter([q[0] for q in green],[q[1] for q in green],size=17,fill_color="#3CEB78",fill_alpha=.88,line_color="#222222",line_width=3)
    return p

XR1=(.716,1409)
for key,x0,x1,y0,y1,b,g,title,xl in (("11",2124,2646,1605,2065,E11_B,E11_G,"Pre−Boost","anti−Spike IgG"),
                                      ("12",2838,3361,1605,2065,E12_B,E12_G,"Pre−Boost","anti−RBD IgG"),
                                      ("21",2124,2646,2319,2780,E21_B,E21_G,"Post−Boost","anti−Spike IgG"),
                                      ("22",2838,3361,2319,2780,E22_B,E22_G,"Post−Boost","anti−RBD IgG")):
    scatter_panel(x0,y0,x1,y1,XR1,key,b,g,title,xl)
    tx=x0+24
    ty=y0+44
    txt(bg,tx,ty,E_STATS[key][0],29,"#2020D8","left"); txt(bg,tx,ty+40,E_STATS[key][1],29,"#2FE06C","left")

open("out.html","w").write(file_html([bg]+panels,INLINE))
